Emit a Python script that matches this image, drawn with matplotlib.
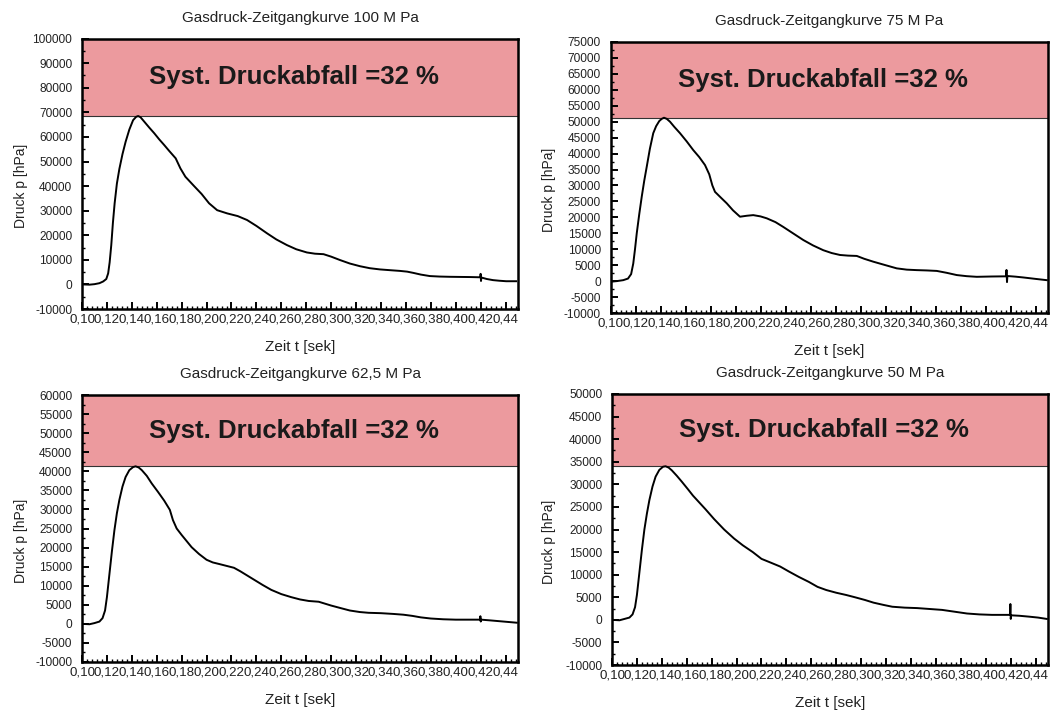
import matplotlib
matplotlib.use("Agg")
import matplotlib.pyplot as plt
from matplotlib.ticker import MultipleLocator, FuncFormatter

plt.rcParams["font.family"] = ["Liberation Sans", "DejaVu Sans"]

# ---- measured pressure curves (time in s, pressure in hPa) ----
t_100 = [0.1005, 0.1060, 0.1100, 0.1140, 0.1170, 0.1195, 0.1210, 0.1222, 0.1235, 0.1248,
         0.1262, 0.1280, 0.1300, 0.1325, 0.1350, 0.1380, 0.1410, 0.1435, 0.1451, 0.1470,
         0.1500, 0.1540, 0.1580, 0.1620, 0.1660, 0.1700, 0.1752, 0.1790, 0.1830, 0.1900,
         0.1960, 0.2020, 0.2085, 0.2165, 0.2250, 0.2325, 0.2400, 0.2485, 0.2560, 0.2645,
         0.2720, 0.2805, 0.2870, 0.2939, 0.3000, 0.3072, 0.3150, 0.3232, 0.3310, 0.3392,
         0.3470, 0.3552, 0.3610, 0.3659, 0.3720, 0.3792, 0.3870, 0.3952, 0.4030, 0.4112,
         0.4198, 0.4200, 0.4203, 0.4206, 0.4250, 0.4299, 0.4350, 0.4405, 0.4485]
p_100 = [0, -100, 100, 500, 1200, 2200, 4500, 9000, 16000, 25000,
         33000, 41000, 47000, 53000, 58000, 63000, 66800, 68200, 68500, 68000,
         66200, 63800, 61500, 59000, 56700, 54300, 51300, 47200, 43800, 40000,
         36800, 33000, 30200, 28900, 27800, 26200, 23800, 20800, 18300, 16000,
         14300, 13000, 12500, 12300, 11300, 9900, 8500, 7400, 6600, 6100,
         5800, 5500, 5200, 4700, 4000, 3400, 3200, 3100, 3050, 3000,
         2900, 4300, 1400, 2800, 2200, 1750, 1500, 1300, 1300]

t_75 = [0.1000, 0.1050, 0.1102, 0.1140, 0.1165, 0.1182, 0.1196, 0.1210, 0.1230, 0.1250,
        0.1270, 0.1290, 0.1315, 0.1342, 0.1365, 0.1390, 0.1410, 0.1428, 0.1450, 0.1476,
        0.1510, 0.1556, 0.1610, 0.1662, 0.1710, 0.1756, 0.1790, 0.1815, 0.1836, 0.1880,
        0.1930, 0.1980, 0.2036, 0.2090, 0.2142, 0.2200, 0.2250, 0.2320, 0.2382, 0.2460,
        0.2542, 0.2620, 0.2702, 0.2770, 0.2836, 0.2900, 0.2970, 0.3030, 0.3102, 0.3200,
        0.3290, 0.3370, 0.3450, 0.3530, 0.3610, 0.3690, 0.3770, 0.3850, 0.3930, 0.4050,
        0.4160, 0.4165, 0.4168, 0.4172, 0.4175, 0.4240, 0.4302, 0.4400, 0.4490]
p_75 = [-200, 0, 300, 800, 2200, 5500, 10000, 15000, 21000, 26500,
        31500, 35900, 41500, 46400, 48600, 50200, 50900, 51250, 50900, 50000,
        48400, 46400, 43800, 41100, 38900, 36400, 33500, 30000, 28000, 26300,
        24400, 22200, 20200, 20500, 20700, 20300, 19700, 18500, 17000, 15000,
        12900, 11200, 9700, 8800, 8200, 8000, 7900, 7000, 6100, 5000,
        4000, 3600, 3450, 3350, 3200, 2600, 1900, 1550, 1350, 1450,
        1500, 1600, 3500, -300, 1600, 1400, 1150, 700, 300]

t_625 = [0.1000, 0.1060, 0.1100, 0.1140, 0.1165, 0.1185, 0.1200, 0.1220, 0.1240, 0.1260,
         0.1280, 0.1300, 0.1325, 0.1350, 0.1380, 0.1410, 0.1430, 0.1455, 0.1480, 0.1520,
         0.1560, 0.1610, 0.1660, 0.1705, 0.1730, 0.1760, 0.1800, 0.1840, 0.1880, 0.1940,
         0.2000, 0.2050, 0.2100, 0.2160, 0.2220, 0.2270, 0.2320, 0.2380, 0.2450, 0.2520,
         0.2600, 0.2680, 0.2750, 0.2820, 0.2900, 0.2950, 0.3000, 0.3080, 0.3150, 0.3230,
         0.3300, 0.3400, 0.3500, 0.3580, 0.3650, 0.3720, 0.3800, 0.3900, 0.4000, 0.4100,
         0.4195, 0.4198, 0.4201, 0.4204, 0.4280, 0.4350, 0.4420, 0.4490]
p_625 = [0, -100, 200, 600, 1500, 3500, 7000, 13000, 19000, 24500,
         29000, 32500, 36000, 38500, 40300, 41100, 41300, 41000, 40300, 38800,
         36800, 34600, 32300, 29900, 27200, 25000, 23300, 21700, 20100, 18300,
         16800, 16100, 15700, 15200, 14700, 13800, 12800, 11600, 10200, 8900,
         7800, 7000, 6400, 6000, 5800, 5300, 4800, 4100, 3500, 3100,
         2900, 2800, 2600, 2400, 2100, 1700, 1400, 1200, 1100, 1100,
         1100, 2000, 600, 1100, 900, 700, 500, 300]

t_50 = [0.1000, 0.1060, 0.1100, 0.1140, 0.1165, 0.1185, 0.1200, 0.1220, 0.1240, 0.1260,
        0.1280, 0.1300, 0.1325, 0.1350, 0.1380, 0.1410, 0.1430, 0.1455, 0.1480, 0.1520,
        0.1560, 0.1610, 0.1650, 0.1700, 0.1750, 0.1820, 0.1900, 0.1980, 0.2050, 0.2130,
        0.2200, 0.2280, 0.2350, 0.2420, 0.2500, 0.2580, 0.2650, 0.2720, 0.2800, 0.2880,
        0.2950, 0.3030, 0.3100, 0.3180, 0.3250, 0.3350, 0.3450, 0.3550, 0.3650, 0.3750,
        0.3850, 0.3950, 0.4050, 0.4150, 0.4195, 0.4198, 0.4201, 0.4204, 0.4270, 0.4350,
        0.4420, 0.4490]
p_50 = [0, -100, 200, 500, 1200, 2800, 5500, 10500, 15500, 20000,
        23500, 26500, 29500, 31700, 33200, 33900, 34000, 33700, 33100, 31900,
        30600, 28900, 27500, 26000, 24500, 22300, 20000, 18000, 16500, 15000,
        13500, 12600, 11800, 10700, 9500, 8400, 7300, 6600, 6000, 5500,
        5000, 4400, 3800, 3300, 2900, 2700, 2600, 2400, 2200, 1800,
        1400, 1200, 1100, 1100, 1100, 3500, 200, 1000, 900, 700,
        500, 200]

titles = ["Gasdruck-Zeitgangkurve 100 M Pa", "Gasdruck-Zeitgangkurve 75 M Pa",
          "Gasdruck-Zeitgangkurve 62,5 M Pa", "Gasdruck-Zeitgangkurve 50 M Pa"]
y_tops = [100000, 75000, 60000, 50000]
y_steps = [10000, 5000, 5000, 5000]
band_text = "Syst. Druckabfall =32 %"
x_label = "Zeit t [sek]"
y_label = "Druck p [hPa]"

W, H = 1056, 713
fig = plt.figure(figsize=(W / 100, H / 100), dpi=100)

# axes boxes in pixels: left, top, right, bottom
boxes = [(82, 38.6, 518, 309), (610.5, 42, 1048, 313),
         (82, 395, 518, 662), (612, 394, 1048, 665)]
ylabel_x = [21, 549, 21, 549]

series = [(t_100, p_100), (t_75, p_75), (t_625, p_625), (t_50, p_50)]
band_color = "#ec9a9e"

for i, ((t, p), (l, tp, r, b)) in enumerate(zip(series, boxes)):
    ax = fig.add_axes([l / W, 1 - b / H, (r - l) / W, (b - tp) / H])
    ax.set_xlim(0.10, 0.45)
    ax.set_ylim(-10000, y_tops[i])
    peak = max(p)
    ax.axhspan(peak, y_tops[i], facecolor=band_color, edgecolor="#333333",
               linewidth=0.8, zorder=1)
    ax.plot(t, p, color="black", linewidth=1.4, zorder=3, solid_joinstyle="round")
    ax.text(0.485, (peak + y_tops[i]) / 2, band_text, transform=ax.get_yaxis_transform(),
            ha="center", va="center", fontsize=18.5, fontweight="bold", color="#1a1a1a",
            zorder=4)

    ax.xaxis.set_major_locator(MultipleLocator(0.02))
    ax.xaxis.set_minor_locator(MultipleLocator(0.004))
    ax.xaxis.set_major_formatter(FuncFormatter(lambda v, pos: f"{v:.2f}".replace(".", ",")))
    ax.yaxis.set_major_locator(MultipleLocator(y_steps[i]))
    ax.yaxis.set_minor_locator(MultipleLocator(y_steps[i] / 2))
    ax.yaxis.set_major_formatter(FuncFormatter(lambda v, pos: f"{int(round(v))}"))

    ax.tick_params(axis="both", which="major", direction="in", length=5, width=1.4,
                   color="black")
    ax.tick_params(axis="both", which="minor", direction="in", length=2.5, width=1.0,
                   color="black")
    ax.tick_params(axis="x", which="major", labelsize=9.6, pad=3.5, labelcolor="#222222")
    ax.tick_params(axis="y", which="major", labelsize=8.6, pad=7, labelcolor="#222222")
    for sp in ax.spines.values():
        sp.set_linewidth(1.8)
        sp.set_color("black")

    cx = (l + r) / 2
    fig.text(cx / W, 1 - (tp - 21) / H, titles[i], ha="center", va="center",
             fontsize=11, color="#222222")
    fig.text(cx / W, 1 - (b + 38) / H, x_label, ha="center", va="center",
             fontsize=11, color="#222222")
    fig.text(ylabel_x[i] / W, 1 - ((tp + b) / 2 + 12) / H, y_label, ha="center",
             va="center", rotation=90, fontsize=10, color="#222222")

fig.savefig("out.png", dpi=100, facecolor="white")
